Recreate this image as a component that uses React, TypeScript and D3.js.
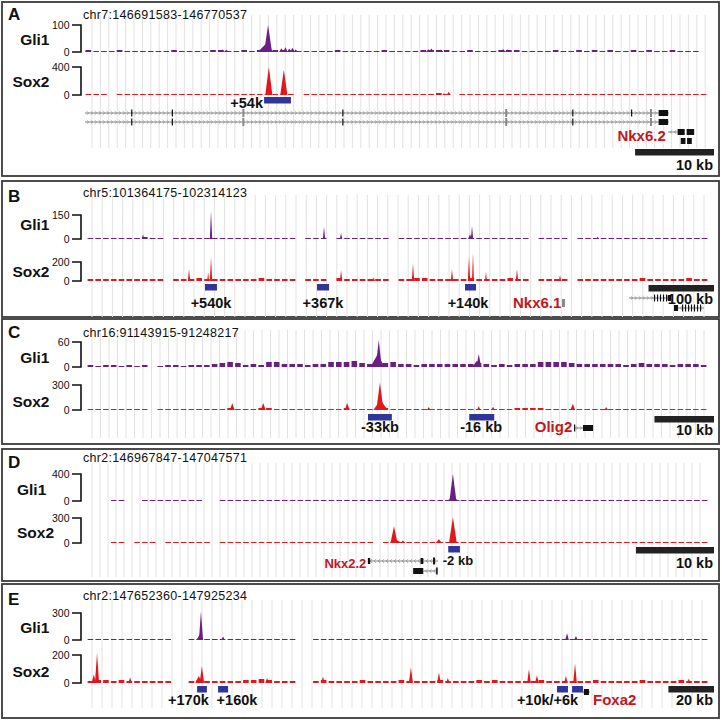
import React from "react";
import * as d3 from "d3";

// ---------------- DATA ----------------
const PANEL_LETTERS = ["A", "B", "C", "D", "E"];
const REGION_CHROM = ["chr7", "chr5", "chr16", "chr2", "chr2"];
const REGION_START = [146691583, 101364175, 91143915, 146967847, 147652360];
const REGION_END = [146770537, 102314123, 91248217, 147047571, 147925234];
const TRACK_NAMES = ["Gli1", "Sox2"];
const GLI1_YMAX = [100, 150, 60, 400, 300];
const SOX2_YMAX = [400, 200, 300, 300, 200];
const SCALE_BAR_KB = [10, 100, 10, 10, 20];
const SCALE_BAR_LABELS = ["10 kb", "100 kb", "10 kb", "10 kb", "20 kb"];

// background coverage, 80 equal bins across the window (null = no reads)
const A_GLI1_BG = [8,4,5,4,6,4,5,4,4,5, 4,6,4,5,4,5,7,8,5,4, 6,5,6,8,9,7,5,4,5,4, 5,4,6,4,5,4,4,5,6,4, 5,4,5,6,9,8,7,5,5,6, 5,4,5,6,8,7,5,4,5,4, 6,5,4,6,5,7,5,6,5,4, 6,5,7,5,4,6,5,4,5,0];
const A_SOX2_BG = [14,10,14,0,14,10,14,12,14,10, 14,14,20,14,10,14,12,10,14,16, 14,12,14,20,20,16,14,0,14,10, 14,12,14,10,14,12,14,14,10,14, 14,12,14,14,20,28,12,0,10,14, 14,12,14,10,14,12,14,14,14,10, 14,12,14,10,14,14,12,14,14,10, 14,14,12,14,14,16,14,14,10,14];
const B_GLI1_BG = [6,6,7,5,6,6,9,12,7,6, null,6,7,6,6,7,6,6,6,7, 6,6,8,6,6,7,6,null,6,6, 7,null,6,6,6,6,6,6,6,null, 6,6,7,6,6,6,8,6,7,6, 6,6,6,6,7,6,6,null,6,6, 6,6,null,6,6,6,6,7,6,6, 8,6,6,6,6,6,7,6,6,6];
const B_SOX2_BG = [22,18,20,25,18,20,22,25,20,18, null,22,20,25,30,22,20,18,22,20, 25,22,28,20,22,25,20,null,22,20, 22,null,28,22,20,18,22,25,20,null, 22,25,30,28,22,25,20,22,25,28, 22,20,25,22,28,22,20,null,22,20, 25,22,null,22,20,25,22,20,25,22, 25,28,22,20,22,25,22,28,25,20];
const C_GLI1_BG = [4,3,4,5,3,4,3,4,null,3, 4,5,3,5,4,5,6,10,12,9, 5,6,5,11,12,8,6,7,5,6, 7,11,13,12,14,10,6,7,10,12, 7,6,5,7,6,8,6,7,6,8, 9,6,5,6,5,6,7,8,11,12, 12,11,10,7,8,6,7,8,6,5, 7,9,8,6,7,5,8,6,7,5];
const C_SOX2_BG = [12,10,12,8,12,10,12,10,null,10, 12,10,12,14,12,10,12,15,25,15, 12,14,18,25,15,14,12,15,14,12, 14,12,16,22,16,12,14,12,20,14, 12,10,12,14,12,15,12,14,12,15, 14,12,14,12,15,18,20,22,18,15, 14,12,15,14,12,14,12,15,12,14, 12,14,12,10,12,14,12,12,10,12];
const D_GLI1_BG = [null,null,null,10,8,null,null,10,12,10, 8,12,10,10,8,null,null,10,12,10, 14,12,10,12,14,10,8,10,12,12, 14,10,12,10,12,14,12,10,12,14, 12,10,14,12,14,12,16,14,14,12, 10,12,10,12,8,10,12,10,12,10, 8,12,10,12,10,8,12,10,12,10, 12,8,10,12,10,8,12,10,12,10];
const D_SOX2_BG = [null,null,null,10,10,null,10,10,12,null, 10,12,10,10,12,10,null,12,10,12, 12,10,14,12,10,12,12,14,10,12, 10,12,10,12,14,12,10,null,12,10, 12,10,12,12,10,12,14,12,10,12, 12,10,12,10,12,10,12,14,12,10, 12,10,12,10,12,10,12,10,12,12, 10,12,10,12,10,12,10,12,10,12];
const E_GLI1_BG = [10,12,10,10,12,10,12,10,12,10, 12,null,null,12,10,12,14,12,10,12, 12,14,10,12,10,12,10,null,null,10, 12,10,12,10,12,12,10,12,10,12, 12,10,12,10,12,10,12,12,10,12, 10,12,10,12,10,12,10,12,12,10, 12,10,12,10,12,10,12,10,12,10, 12,12,10,12,10,12,10,12,10,12];
const E_SOX2_BG = [14,22,20,14,18,14,12,16,14,12, 16,null,null,14,18,16,12,14,16,14, 18,22,25,20,16,14,12,null,null,14, 18,14,16,14,12,18,14,16,14,12, 18,14,16,15,14,18,16,14,12,16, 20,14,18,16,14,12,14,16,18,14, 16,14,12,16,14,18,16,14,12,16, 14,18,16,14,16,14,18,16,14,16];

// peaks: [position kb from window start, height, half-width kb]
const A_GLI1_PEAKS = [[23.2,100,0.5],[22.9,30,1.0],[24.9,14,0.3],[25.4,18,0.3],[25.9,13,0.3],[26.3,16,0.3],[26.7,9,0.3],[17.4,9,0.3],[17.9,8,0.3],[43.5,10,0.3],[43.9,13,0.3],[45.1,9,0.3],[53.0,11,0.3],[53.5,9,0.3],[0.2,8,0.2]];
const A_SOX2_PEAKS = [[23.3,400,0.45],[25.2,360,0.45],[46.1,45,0.25],[45.5,25,0.25],[13.3,18,0.3]];
const B_GLI1_PEAKS = [[189.4,175,1.8],[362,75,1.8],[388,37,1.8],[588,80,1.8],[585,30,3],[85.5,30,1.8],[780,15,1.8]];
const B_SOX2_PEAKS = [[189.4,250,1.8],[185,90,1.5],[155.8,126,1.8],[388,116,1.8],[497.9,186,1.8],[557.4,123,1.8],[583.4,255,1.8],[589.5,298,1.5],[609.3,95,1.5],[656.7,123,1.8],[722.4,63,1.8],[438,40,1.8]];
const C_GLI1_PEAKS = [[49.0,65,0.5],[48.8,30,1.2],[65.8,31,0.4],[65.5,15,0.8]];
const C_SOX2_PEAKS = [[49.2,330,0.6],[49.3,120,1.2],[24.4,80,0.4],[29.6,85,0.4],[43.7,85,0.4],[57.4,35,0.3],[65.8,45,0.3],[68.2,40,0.3],[81.6,75,0.4],[87.2,35,0.3]];
const D_GLI1_PEAKS = [[46.9,400,0.45],[46.9,40,1.0],[49.5,20,0.3]];
const D_SOX2_PEAKS = [[39.35,200,0.45],[39.6,40,0.8],[46.9,310,0.5],[45.1,45,0.4],[40.5,30,0.3]];
const E_GLI1_PEAKS = [[50.0,320,0.9],[49.5,60,1.5],[59.7,40,0.8],[210.6,75,0.8],[214.5,45,0.8]];
const E_SOX2_PEAKS = [[4.4,215,0.9],[3.0,60,1.0],[50.4,120,1.0],[49.0,50,1.5],[142.1,110,0.9],[154.4,75,0.8],[193.9,100,0.8],[197.4,55,0.8],[214.1,140,0.8],[210.1,50,0.8],[18.9,40,0.8],[79,35,0.8],[103.5,45,0.8],[158.3,35,0.8],[264,30,0.8]];

// enhancer elements: [start kb, end kb]
const A_ENHANCERS = [[22.7, 26.1]];
const B_ENHANCERS = [[180.2, 198.5], [351.3, 369.6], [577.3, 594.1]];
const C_ENHANCERS = [[47.2, 51.2], [64.2, 68.4]];
const D_ENHANCERS = [[46.3, 47.8]];
const E_ENHANCERS = [[48.3, 52.6], [57.5, 61.9], [206.2, 211.0], [212.8, 217.6]];

// annotation labels: [text, kb, anchor, isGene]
const A_LABELS = [["+54k", 22.56, "end", 0], ["Nkx6.2", 73.6, "end", 1]];
const B_LABELS = [["+540k", 189.4, "middle", 0], ["+367k", 360.4, "middle", 0], ["+140k", 581.9, "middle", 0], ["Nkx6.1", 650.6, "start", 1]];
const C_LABELS = [["-33kb", 49.2, "middle", 0], ["-16 kb", 66.2, "middle", 0], ["Olig2", 75.2, "start", 1]];
const D_LABELS = [["-2 kb", 45.6, "start", 0], ["Nkx2.2", 35.8, "end", 1]];
const E_LABELS = [["+170k", 44.5, "middle", 0], ["+160k", 65.8, "middle", 0], ["+10k/+6k", 188.6, "start", 0], ["Foxa2", 222.0, "start", 1]];

// gene model lines: [row, start kb, end kb, strand]
const A_GENE_LINES = [[0, 0, 74.0, 1], [1, 0, 74.0, 1], [2, 73.9, 75.1, -1]];
const B_GENE_LINES = [[0, 827.7, 892, 1], [1, 896.5, 942.3, -1]];
const C_GENE_LINES = [[0, 81.8, 83.3, 1]];
const D_GENE_LINES = [[0, 36.0, 45.0, -1], [1, 43.1, 44.9, -1]];
const E_GENE_LINES = [[0, 216.7, 220.7, -1]];
// exons: [row, start kb, end kb, kind] kind 0 = thin tick, 1 = grey block, 2 = black block
const A_EXONS = [
  [0,5.85,6.0,0],[1,5.85,6.0,0],[0,11.0,11.15,0],[1,11.0,11.15,0],[0,19.95,20.2,1],[1,19.95,20.2,1],
  [0,32.6,32.75,0],[1,32.6,32.75,0],[0,53.25,53.5,1],[1,53.25,53.5,1],[0,61.75,61.9,0],[1,61.75,61.9,0],
  [0,69.2,69.35,0],[0,71.6,71.85,1],[1,71.6,71.85,1],[0,72.7,73.9,2],[1,72.7,73.9,2],
  [2,75.1,76.0,2],[2,76.25,77.2,2],[3,75.5,76.1,2],[3,76.3,76.9,2]
];
const B_EXONS = [
  [0,865.9,866.8,0],[0,870.5,871.4,0],[0,875.1,876.0,0],[0,879.7,880.6,0],[0,884.3,885.2,0],[0,887.0,892.0,2],
  [1,896.5,902.6,2],[1,908.7,909.6,0],[1,913.3,914.2,0],[1,917.9,918.8,0],[1,922.4,923.3,0],[1,927.0,927.9,0],[1,931.6,932.5,0],[1,936.2,937.1,0],
  [2,725.4,730.0,1]
];
const C_EXONS = [[0,81.8,82.0,0],[0,83.3,85.0,2]];
const D_EXONS = [[0,36.0,36.3,2],[0,42.75,43.1,2],[0,44.35,44.6,0],[1,41.8,43.1,2],[1,44.75,44.95,0]];
const E_EXONS = [[0,218.0,220.2,2]];

// ---------------- LAYOUT ----------------
const LAYOUT = [
  { top: 2, bottom: 176, x0: 85, x1: 708, letterY: 20, chrY: 19, gli: [25, 52], sox: [67, 95], gliLab: 45, soxLab: 87, enhY: 97, labelY: 108, geneLabelY: 140.5, scaleY: 149, scaleLabelY: 170, gridTop: 15, gridBottom: 148, gridStep: 8.4, rows: [113, 122, 132, 141], nameLeft: false, small: false },
  { top: 181, bottom: 317, x0: 87, x1: 709, letterY: 202, chrY: 197, gli: [215, 239], sox: [262, 281], gliLab: 230, soxLab: 277, enhY: 284, labelY: 308, geneLabelY: 308, scaleY: 285, scaleLabelY: 304, gridTop: 195, gridBottom: 317, gridStep: 10.2, rows: [298, 308, 303], nameLeft: false, small: false },
  { top: 319, bottom: 444, x0: 87, x1: 708, letterY: 338, chrY: 337, gli: [342, 367], sox: [385, 410], gliLab: 363, soxLab: 407, enhY: 414, labelY: 432, geneLabelY: 432, scaleY: 416, scaleLabelY: 435, gridTop: 330, gridBottom: 438, gridStep: 8.5, rows: [428], nameLeft: false, small: false },
  { top: 449, bottom: 581, x0: 87, x1: 709, letterY: 468, chrY: 462, gli: [474, 501], sox: [518, 543], gliLab: 495, soxLab: 538, enhY: 546, labelY: 565, geneLabelY: 568, scaleY: 547, scaleLabelY: 568, gridTop: 463, gridBottom: 577, gridStep: 8, rows: [561, 571], nameLeft: true, small: true },
  { top: 584, bottom: 718, x0: 87, x1: 709, letterY: 605, chrY: 600, gli: [613, 640], sox: [655, 683], gliLab: 633, soxLab: 677, enhY: 686, labelY: 705, geneLabelY: 705, scaleY: 686, scaleLabelY: 705, gridTop: 600, gridBottom: 708, gridStep: 10, rows: [692], nameLeft: false, small: false },
];

const GLI1_COLOR = "#6c1f82";
const SOX2_COLOR = "#e3161b";
const ENH_COLOR = "#30359a";
const GENE_RED = "#c4161c";
const FONT = "'Liberation Sans', Arial, Helvetica, sans-serif";

const PANELS = [
  { bg: [A_GLI1_BG, A_SOX2_BG], peaks: [A_GLI1_PEAKS, A_SOX2_PEAKS], enh: A_ENHANCERS, labels: A_LABELS, lines: A_GENE_LINES, exons: A_EXONS },
  { bg: [B_GLI1_BG, B_SOX2_BG], peaks: [B_GLI1_PEAKS, B_SOX2_PEAKS], enh: B_ENHANCERS, labels: B_LABELS, lines: B_GENE_LINES, exons: B_EXONS },
  { bg: [C_GLI1_BG, C_SOX2_BG], peaks: [C_GLI1_PEAKS, C_SOX2_PEAKS], enh: C_ENHANCERS, labels: C_LABELS, lines: C_GENE_LINES, exons: C_EXONS },
  { bg: [D_GLI1_BG, D_SOX2_BG], peaks: [D_GLI1_PEAKS, D_SOX2_PEAKS], enh: D_ENHANCERS, labels: D_LABELS, lines: D_GENE_LINES, exons: D_EXONS },
  { bg: [E_GLI1_BG, E_SOX2_BG], peaks: [E_GLI1_PEAKS, E_SOX2_PEAKS], enh: E_ENHANCERS, labels: E_LABELS, lines: E_GENE_LINES, exons: E_EXONS },
];

function Track({ xs, values, peaks, ymax, top, base, color, regionLen }: any) {
  const ys = d3.scaleLinear().domain([0, ymax]).range([base, top]);
  const n = values.length;
  const binKb = regionLen / n;
  const binPx = xs(binKb) - xs(0);
  const area = d3
    .area<number[]>()
    .x((d) => xs(d[0]))
    .y0(base)
    .y1((d) => ys(d[1]));
  return (
    <g>
      {values.map((v: number | null, i: number) => {
        if (v == null || v === 0) return null;
        const h = Math.max(1, Math.round(base - ys(v)));
        return <rect key={i} x={xs(i * binKb) + 0.6} width={binPx * 0.72} y={base - h} height={h} fill={color} />;
      })}
      {peaks.map((p: number[], i: number) => (
        <path key={"p" + i} d={area([[p[0] - p[2], 0], [p[0], p[1]], [p[0] + p[2], 0]]) || ""} fill={color} />
      ))}
    </g>
  );
}

function Bracket({ top, base, maxLabel }: any) {
  return (
    <g>
      <path d={`M72,${top}H81V${base}H72`} fill="none" stroke="#111" strokeWidth={1.6} />
      <text x={69.5} y={top + 3.5} textAnchor="end" fontSize={10.5} fontFamily={FONT} fill="#111">{maxLabel}</text>
      <text x={69.5} y={base + 3.5} textAnchor="end" fontSize={10.5} fontFamily={FONT} fill="#111">0</text>
    </g>
  );
}

function Panel({ idx }: { idx: number }) {
  const L = LAYOUT[idx];
  const P = PANELS[idx];
  const regionLen = (REGION_END[idx] - REGION_START[idx]) / 1000;
  const xs = d3.scaleLinear().domain([0, regionLen]).range([L.x0, L.x1]);
  const grid = d3.range(92, 706, L.gridStep);
  const sbW = xs(SCALE_BAR_KB[idx]) - xs(0);
  const labelFs = L.small ? 13 : 14.5;
  return (
    <g>
      <rect x={2} y={L.top} width={717} height={L.bottom - L.top} fill="#fff" stroke="#3a3a3a" strokeWidth={1.8} />
      {grid.map((g, i) => (
        <line key={i} x1={g} x2={g} y1={L.gridTop} y2={L.gridBottom} stroke="#e2e2e2" strokeWidth={1} />
      ))}
      <text x={8} y={L.letterY} fontSize={17} fontWeight="bold" fontFamily={FONT} fill="#111">{PANEL_LETTERS[idx]}</text>
      <text x={83} y={L.chrY} fontSize={12.5} letterSpacing={0.3} fontFamily={FONT} fill="#111">
        {`${REGION_CHROM[idx]}:${REGION_START[idx]}-${REGION_END[idx]}`}
      </text>
      {[0, 1].map((t) => {
        const yr = t === 0 ? L.gli : L.sox;
        return (
          <g key={t}>
            <text
              x={L.nameLeft ? 17 : 49.5}
              y={t === 0 ? L.gliLab : L.soxLab}
              textAnchor={L.nameLeft ? "start" : "end"}
              fontSize={15.5}
              fontWeight="bold"
              fontFamily={FONT}
              fill="#111"
            >
              {TRACK_NAMES[t]}
            </text>
            <Bracket top={yr[0]} base={yr[1]} maxLabel={t === 0 ? GLI1_YMAX[idx] : SOX2_YMAX[idx]} />
            <Track
              xs={xs}
              values={P.bg[t]}
              peaks={P.peaks[t]}
              ymax={t === 0 ? GLI1_YMAX[idx] : SOX2_YMAX[idx]}
              top={yr[0]}
              base={yr[1]}
              color={t === 0 ? GLI1_COLOR : SOX2_COLOR}
              regionLen={regionLen}
            />
          </g>
        );
      })}
      {P.enh.map((e, i) => (
        <rect key={i} x={xs(e[0])} width={xs(e[1]) - xs(e[0])} y={L.enhY} height={6.5} fill={ENH_COLOR} />
      ))}
      {P.lines.map((ln, i) => {
        const y = L.rows[ln[0]];
        const xa = xs(ln[1]);
        const xb = xs(ln[2]);
        const chev = d3.range(xa + 3, xb - 1, 4);
        const s = ln[3];
        return (
          <g key={"l" + i}>
            <line x1={xa} x2={xb} y1={y} y2={y} stroke="#777" strokeWidth={0.9} />
            {chev.map((c, j) => (
              <path key={j} d={`M${c - 1.3 * s},${y - 1.8}L${c + 0.7 * s},${y}L${c - 1.3 * s},${y + 1.8}`} fill="none" stroke="#888" strokeWidth={0.7} />
            ))}
          </g>
        );
      })}
      {P.exons.map((ex, i) => {
        const y = L.rows[ex[0]];
        const h = ex[3] === 0 ? 7 : ex[3] === 1 ? 8 : 6;
        return (
          <rect
            key={"e" + i}
            x={xs(ex[1])}
            width={Math.max(1.1, xs(ex[2]) - xs(ex[1]))}
            y={y - h / 2}
            height={h}
            fill={ex[3] === 1 ? "#8a8a8a" : "#111"}
          />
        );
      })}
      {P.labels.map((lb, i) => (
        <text
          key={"t" + i}
          x={xs(lb[1] as number)}
          y={lb[3] ? L.geneLabelY : L.labelY}
          textAnchor={lb[2] as any}
          fontSize={lb[3] ? (L.small ? 13 : 15) : labelFs}
          fontWeight="bold"
          fontFamily={FONT}
          fill={lb[3] ? GENE_RED : "#111"}
        >
          {lb[0]}
        </text>
      ))}
      <rect x={714 - sbW} width={sbW} y={L.scaleY} height={6.5} fill="#222" />
      <text x={713} y={L.scaleLabelY} textAnchor="end" fontSize={14.5} fontWeight="bold" fontFamily={FONT} fill="#111">
        {SCALE_BAR_LABELS[idx]}
      </text>
    </g>
  );
}

export default function App() {
  return (
    <div style={{ position: "absolute", left: 0, top: 0 }}>
      <svg width={722} height={720} style={{ display: "block", background: "#fff" }}>
        {PANEL_LETTERS.map((_, i) => (
          <Panel key={i} idx={i} />
        ))}
      </svg>
    </div>
  );
}
